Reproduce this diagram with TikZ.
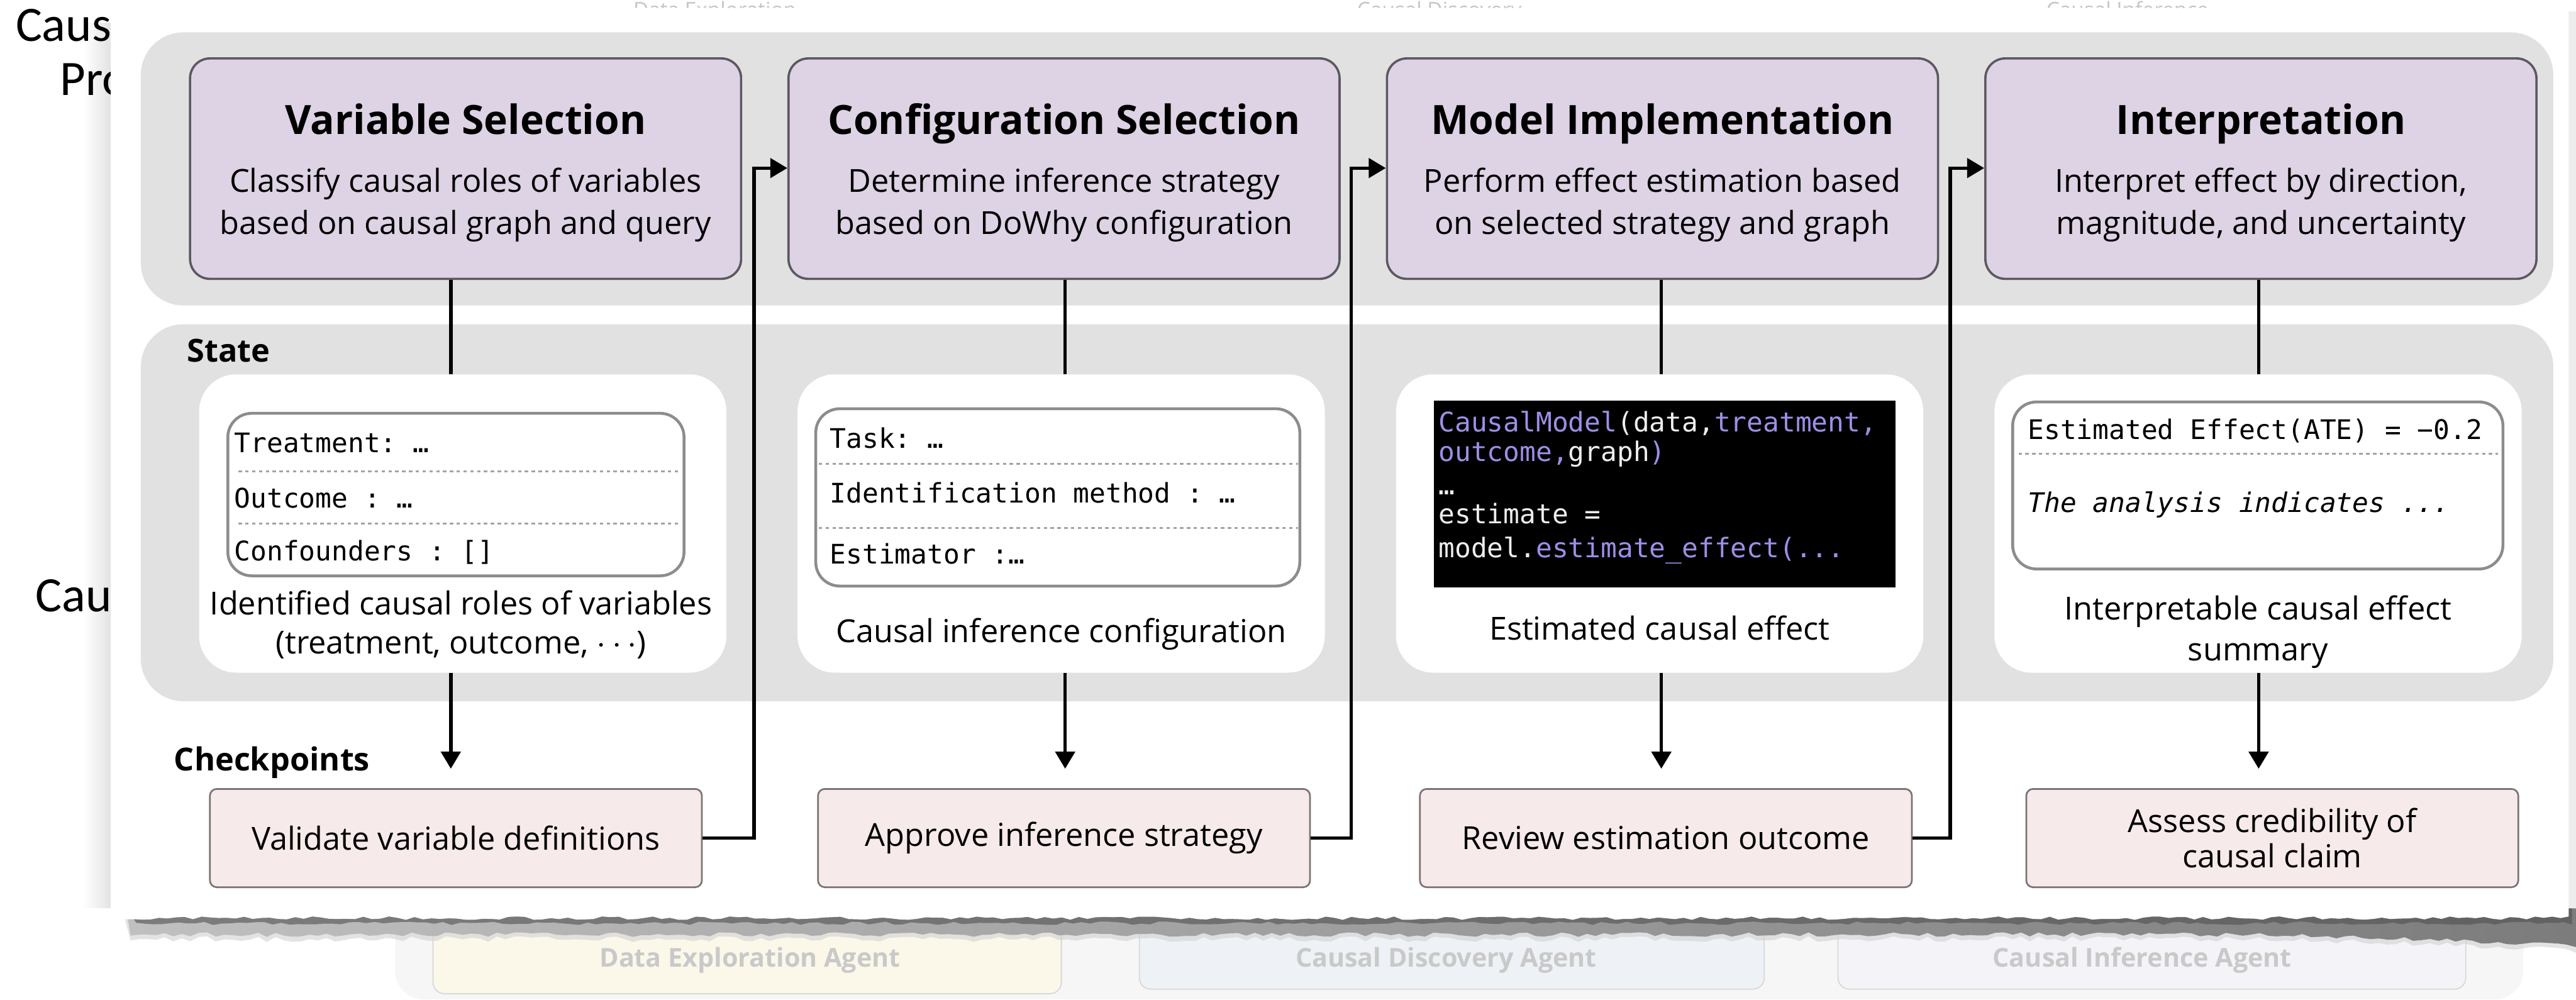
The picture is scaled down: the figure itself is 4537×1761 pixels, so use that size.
\documentclass[tikz,border=0pt]{standalone}
\usepackage{fontspec}
\setmainfont{Open Sans}
\setmonofont{DejaVu Sans Mono}
\newfontfamily\backfont{Carlito}
\usetikzlibrary{arrows.meta,calc}

\definecolor{panelgray}{HTML}{E1E1E1}
\definecolor{stagefill}{HTML}{DDD3E4}
\definecolor{stageedge}{HTML}{5C5860}
\definecolor{fieldedge}{HTML}{8C8C8C}
\definecolor{sepgray}{HTML}{A3A3A3}
\definecolor{checkfill}{HTML}{F7EAEA}
\definecolor{checkedge}{HTML}{7A7474}
\definecolor{codep}{HTML}{9C8FE6}
\definecolor{codew}{HTML}{EDEDED}
\definecolor{fainttext}{HTML}{C6C6C6}
\definecolor{agenttext}{HTML}{C9C9C9}
\definecolor{farpanel}{HTML}{F6F6F6}
\definecolor{agentA}{HTML}{FBF8EA}
\definecolor{agentB}{HTML}{EEF2F6}
\definecolor{agentC}{HTML}{F4F3F8}
\definecolor{agentedge}{HTML}{D8D8D8}
\definecolor{shadowlight}{HTML}{C0C0C0}
\definecolor{shadowdark}{HTML}{7C7C7C}
\definecolor{shadowedge}{HTML}{505050}

\newcommand\cfTitle{\fontsize{20.2}{24}\selectfont\bfseries}
\newcommand\cfBody{\fontsize{15.9}{17.6}\selectfont}
\newcommand\cfLabel{\fontsize{15.9}{19}\selectfont\bfseries}
\newcommand\cfMono{\ttfamily\fontsize{13.5}{15.6}\selectfont}
\newcommand\cfBack{\backfont\fontsize{24.8}{28}\selectfont}
\newcommand\cfFaint{\fontsize{10.5}{12}\selectfont}
\newcommand\cfFaintBold{\fontsize{13}{16}\selectfont\bfseries}

\tikzset{
  stagebox/.style={draw=stageedge, line width=0.04cm, fill=stagefill,
    rounded corners=0.35cm, minimum width=9.7cm, minimum height=3.88cm},
  statebox/.style={fill=white, rounded corners=0.65cm,
    minimum width=9.28cm, minimum height=5.25cm},
  fieldbox/.style={draw=fieldedge, line width=0.05cm, fill=white,
    rounded corners=0.42cm},
  codebox/.style={fill=black},
  checkbox/.style={draw=checkedge, line width=0.03cm, fill=checkfill,
    rounded corners=0.12cm, minimum width=8.66cm, minimum height=1.73cm,
    font=\cfBody, align=center},
  agentbox/.style={draw=agentedge, line width=0.02cm, rounded corners=0.2cm},
  txt/.style={anchor=base, font=\cfBody, inner sep=0pt},
  mono/.style={anchor=base west, font=\cfMono, inner sep=0pt},
  sep/.style={draw=sepgray, line width=0.04cm, dash pattern=on 0.06cm off 0.06cm},
  link/.style={line width=0.06cm, black},
  arr/.style={link, -{Triangle[length=0.3cm,width=0.34cm]}},
}

\begin{document}
\begin{tikzpicture}[x=0.01cm,y=-0.01cm]
\useasboundingbox (0,0) rectangle (4537,1761);
\fill[white] (0,0) rectangle (4537,1761);

% ---- page underneath the torn card ----
\node[anchor=base west, font=\cfBack, inner sep=0pt] (bgA) at (27,73) {Caus};
\node[anchor=base west, font=\cfBack, inner sep=0pt] (bgB) at (105,168) {Pro};
\node[anchor=base west, font=\cfBack, inner sep=0pt] (bgC) at (62,1077) {Cau};
\foreach \n/\x/\t in {tA/1259/Data Exploration, tB/2535/Causal Discovery, tC/3747/Causal Inference}
  \node[anchor=base, font=\cfFaint, text=fainttext, inner sep=0pt] (\n) at (\x,30) {\t};

\fill[farpanel, rounded corners=0.5cm] (696,1560) rectangle (4444,1760);
\node[agentbox, fill=agentA, minimum width=11.06cm, minimum height=1.5cm] (agA) at (1316,1675) {};
\node[agentbox, fill=agentB, minimum width=11.0cm, minimum height=1.42cm] (agB) at (2557,1671) {};
\node[agentbox, fill=agentC, minimum width=11.05cm, minimum height=1.42cm] (agC) at (3790,1671) {};
\node[anchor=base, font=\cfFaintBold, text=agenttext, inner sep=0pt] (agAt) at (1321,1703) {Data Exploration Agent};
\node[anchor=base, font=\cfFaintBold, text=agenttext, inner sep=0pt] (agBt) at (2547,1703) {Causal Discovery Agent};
\node[anchor=base, font=\cfFaintBold, text=agenttext, inner sep=0pt] (agCt) at (3773,1703) {Causal Inference Agent};

% ---- card shadows (translucent steps so the page shows through) ----
\foreach \i in {0,...,8}
  \fill[black, opacity=0.012] ({150+5*\i},40) rectangle (195,1600);
\fill[black!7] (4524,20) rectangle (4537,1640);
\pgfmathsetseed{11}
\fill[black!18, opacity=0.6]
  (215,1600) -- (4537,1600) -- (4537,1678)
  foreach \x in {4520,4505,...,220} { -- (\x,{1654+18*max(0,(\x-4000)/537)+5*rand}) } -- cycle;
\pgfmathsetseed{11}
\shade[left color=shadowlight, right color=shadowdark]
  (222,1600) -- (4537,1600) -- (4537,1668)
  foreach \x in {4520,4505,...,230} { -- (\x,{1646+18*max(0,(\x-4000)/537)+4*rand}) } -- cycle;
\fill[shadowedge, opacity=0.6]
  (222,1600) -- (4530,1600) -- (4530,1628)
  foreach \x in {4515,4500,...,230} { -- (\x,{1626+3*rand}) } -- cycle;

% ---- torn white card ----
\pgfmathsetseed{5}
\fill[white] (195,14) -- (4524,14) -- (4524,1614)
  foreach \x in {4510,4495,...,205} { -- (\x,{1617+3*rand}) } -- (195,1617) -- cycle;

% ---- band backgrounds ----
\fill[panelgray, rounded corners=0.75cm] (248,57) rectangle (4497,538);
\fill[panelgray, rounded corners=0.75cm] (248,571) rectangle (4497,1235);
\node[anchor=base west, font=\cfLabel, inner sep=0pt] (lblState) at (329,637) {State};
\node[anchor=base west, font=\cfLabel, inner sep=0pt] (lblCheck) at (306,1357) {Checkpoints};

% ---- stage boxes ----
\node[stagebox] (p1) at (820,297) {};
\node[stagebox] (p2) at (1874,297) {};
\node[stagebox] (p3) at (2928,297) {};
\node[stagebox] (p4) at (3982,297) {};

\node[txt, font=\cfTitle] (p1t) at (820,237) {Variable Selection};
\node[txt] (p1a) at (820,338) {Classify causal roles of variables};
\node[txt] (p1b) at (820,413) {based on causal graph and query};

\node[txt, font=\cfTitle] (p2t) at (1874,237) {Configuration Selection};
\node[txt] (p2a) at (1874,338) {Determine inference strategy};
\node[txt] (p2b) at (1874,413) {based on DoWhy configuration};

\node[txt, font=\cfTitle] (p3t) at (2928,237) {Model Implementation};
\node[txt] (p3a) at (2928,338) {Perform effect estimation based};
\node[txt] (p3b) at (2928,413) {on selected strategy and graph};

\node[txt, font=\cfTitle] (p4t) at (3982,237) {Interpretation};
\node[txt] (p4a) at (3982,338) {Interpret effect by direction,};
\node[txt] (p4b) at (3982,413) {magnitude, and uncertainty};

% ---- state boxes ----
\node[statebox] (s1) at (815,922) {};
\node[statebox] (s2) at (1869,922) {};
\node[statebox] (s3) at (2923,922) {};
\node[statebox] (s4) at (3977,922) {};

% variable roles
\node[fieldbox, minimum width=8.03cm, minimum height=2.86cm] (f1) at (803,871) {};
\draw[sep] (420,830) -- (1196,830);
\draw[sep] (420,922) -- (1196,922);
\node[mono] (f1a) at (412,797) {Treatment: …};
\node[mono] (f1b) at (412,894) {Outcome : …};
\node[mono] (f1c) at (412,987) {Confounders : []};
\node[txt] (s1a) at (812,1083) {Identified causal roles of variables};
\node[txt] (s1b) at (812,1151) {(treatment, outcome, $\cdots$)};

% inference configuration
\node[fieldbox, minimum width=8.52cm, minimum height=3.12cm] (f2) at (1863,876) {};
\draw[sep] (1442,817) -- (2286,817);
\draw[sep] (1442,930) -- (2286,930);
\node[mono] (f2a) at (1461,789) {Task: …};
\node[mono] (f2b) at (1461,886) {Identification method : …};
\node[mono] (f2c) at (1461,993) {Estimator :…};
\node[txt] (s2a) at (1869,1131) {Causal inference configuration};

% estimation code
\node[codebox, minimum width=8.12cm, minimum height=3.29cm, inner sep=0pt] (f3) at (2932,870.5) {};
\node[mono] (f3a) at (2533,760) {\color{codep}CausalModel\color{codew}(data,\color{codep}treatment,};
\node[mono] (f3b) at (2533,813) {\color{codep}outcome,\color{codew}graph\color{codep})};
\node[mono] (f3c) at (2533,871) {\color{codew}…};
\node[mono] (f3d) at (2533,922) {\color{codew}estimate =};
\node[mono] (f3e) at (2533,982) {\color{codew}model.\color{codep}estimate\_effect(...};
\node[txt] (s3a) at (2923,1127) {Estimated causal effect};

% effect summary
\node[fieldbox, minimum width=8.63cm, minimum height=2.94cm] (f4) at (3976.5,855) {};
\draw[sep] (3555,799) -- (4400,799);
\node[mono] (f4a) at (3571,774) {Estimated Effect(ATE) = −0.2};
\node[mono, font=\cfMono\itshape] (f4b) at (3571,902) {The analysis indicates ...};
\node[txt] (s4a) at (3977,1092) {Interpretable causal effect};
\node[txt] (s4b) at (3977,1164) {summary};

% ---- checkpoints ----
\node[checkbox] (c1) at (803,1476) {Validate variable definitions};
\node[checkbox] (c2) at (1874,1476) {Approve inference strategy};
\node[checkbox] (c3) at (2934,1476) {Review estimation outcome};
\node[checkbox] (c4) at (4002,1476) {Assess credibility of\\causal claim};

% ---- connectors ----
\coordinate (k1) at (794,0);
\coordinate (k2) at (1876,0);
\coordinate (k3) at (2926,0);
\coordinate (k4) at (3978,0);
\foreach \i in {1,2,3,4} {
  \draw[link] (p\i.south -| k\i) -- (s\i.north -| k\i);
  \draw[arr, shorten >=0.34cm] (s\i.south -| k\i) -- (c\i.north -| k\i);
}

\coordinate (g1) at (1328,296);
\coordinate (g2) at (2380,296);
\coordinate (g3) at (3435,296);
\draw[arr] (c1.east) -| (g1) -- (p2.west |- g1);
\draw[arr] (c2.east) -| (g2) -- (p3.west |- g2);
\draw[arr] (c3.east) -| (g3) -- (p4.west |- g3);
\end{tikzpicture}
\end{document}
